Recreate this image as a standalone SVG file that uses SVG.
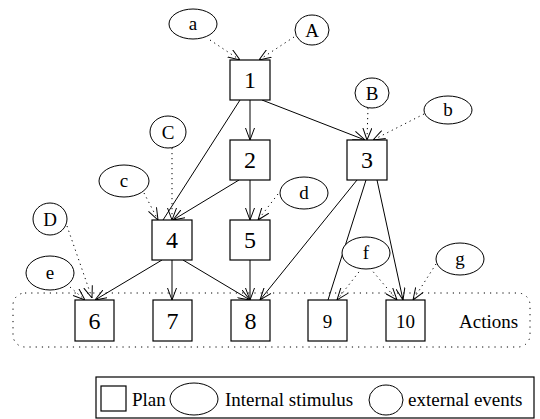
<svg xmlns="http://www.w3.org/2000/svg" width="540" height="419" viewBox="0 0 540 419">
<style>
.box{fill:#fff;stroke:#000;stroke-width:1.2}
.ell{fill:#fff;stroke:#000;stroke-width:1}
.num{font-size:24px;text-anchor:middle;dominant-baseline:central}
.lbl{font-size:19px;text-anchor:middle;dominant-baseline:central}
.txt{font-size:19px;dominant-baseline:central}
.e{stroke:#000;stroke-width:1;fill:none}
.a{marker-end:url(#arr)}
.d{stroke-dasharray:1.2,3.8}
</style>
<defs>
<marker id="arr" viewBox="0 0 12 10" refX="12" refY="5" markerWidth="12" markerHeight="10" markerUnits="userSpaceOnUse" orient="auto">
<path d="M0,0.5 L12,5 L0,9.5" fill="none" stroke="#000" stroke-width="1"/>
</marker>
</defs>
<rect x="13" y="293" width="517" height="54" rx="12" fill="none" stroke="#000" stroke-width="1" stroke-dasharray="1.2,5"/>
<g id="connectors">
<line class="e a" x1="250" y1="100" x2="250" y2="140"/>
<line class="e a" x1="262" y1="100" x2="365" y2="140"/>
<line class="e" x1="240" y1="100" x2="163" y2="220"/>
<line class="e a" x1="239" y1="180" x2="173" y2="220"/>
<line class="e a" x1="250" y1="180" x2="250" y2="220"/>
<line class="e a" x1="357" y1="180" x2="260" y2="300"/>
<line class="e" x1="366" y1="180" x2="328" y2="300"/>
<line class="e a" x1="377" y1="180" x2="403" y2="300"/>
<line class="e a" x1="162" y1="260" x2="95" y2="300"/>
<line class="e a" x1="172" y1="260" x2="172" y2="300"/>
<line class="e a" x1="183" y1="260" x2="250" y2="300"/>
<line class="e a" x1="250" y1="260" x2="250" y2="300"/>
<line class="e a d" x1="210" y1="40" x2="240" y2="60"/>
<line class="e a d" x1="294" y1="37" x2="259" y2="60"/>
<line class="e a d" x1="368" y1="108" x2="367" y2="140"/>
<line class="e a d" x1="424" y1="114" x2="373" y2="140"/>
<line class="e a d" x1="172" y1="148" x2="172" y2="220"/>
<line class="e a d" x1="144" y1="193" x2="158" y2="220"/>
<line class="e a d" x1="278" y1="194" x2="258" y2="220"/>
<line class="e a d" x1="67" y1="226" x2="92" y2="298"/>
<line class="e a d" x1="70" y1="287" x2="85" y2="300"/>
<line class="e a d" x1="362" y1="268" x2="337" y2="300"/>
<line class="e a d" x1="370" y1="268" x2="397" y2="300"/>
<line class="e a d" x1="436" y1="264" x2="413" y2="300"/>
</g>
<g font-family="Liberation Serif, Times New Roman, DejaVu Serif, serif">
<g id="n1"><rect class="box" x="230" y="60" width="40" height="40"/><text class="num" x="250" y="80">1</text></g>
<g id="n2"><rect class="box" x="230" y="140" width="40" height="40"/><text class="num" x="250" y="160">2</text></g>
<g id="n3"><rect class="box" x="347" y="140" width="40" height="40"/><text class="num" x="367" y="160">3</text></g>
<g id="n4"><rect class="box" x="152" y="220" width="40" height="40"/><text class="num" x="172" y="240">4</text></g>
<g id="n5"><rect class="box" x="230" y="220" width="40" height="40"/><text class="num" x="250" y="240">5</text></g>
<g id="n6"><rect class="box" x="75" y="300" width="39" height="41"/><text class="num" x="94.5" y="321">6</text></g>
<g id="n7"><rect class="box" x="153" y="300" width="39" height="41"/><text class="num" x="172.5" y="321">7</text></g>
<g id="n8"><rect class="box" x="231" y="300" width="39" height="41"/><text class="num" x="250.5" y="321">8</text></g>
<g id="n9"><rect class="box" x="308" y="300" width="39" height="41"/><text class="lbl" x="327.5" y="321">9</text></g>
<g id="n10"><rect class="box" x="386" y="300" width="39" height="41"/><text class="lbl" x="405.5" y="321">10</text></g>
<g id="ea"><ellipse class="ell" cx="193" cy="24" rx="24" ry="15"/><text class="lbl" x="193" y="23">a</text></g>
<g id="eA"><ellipse class="ell" cx="312" cy="30" rx="17" ry="15"/><text class="lbl" x="312" y="30">A</text></g>
<g id="eB"><ellipse class="ell" cx="372" cy="93" rx="17" ry="15"/><text class="lbl" x="372" y="93">B</text></g>
<g id="eb"><ellipse class="ell" cx="448" cy="110" rx="24" ry="14"/><text class="lbl" x="448" y="109">b</text></g>
<g id="eC"><ellipse class="ell" cx="168" cy="132" rx="18" ry="16"/><text class="lbl" x="168" y="132">C</text></g>
<g id="ec"><ellipse class="ell" cx="124" cy="181" rx="25" ry="16"/><text class="lbl" x="124" y="180">c</text></g>
<g id="eD"><ellipse class="ell" cx="50" cy="219" rx="17" ry="16"/><text class="lbl" x="50" y="219">D</text></g>
<g id="ed"><ellipse class="ell" cx="304" cy="193" rx="24" ry="16"/><text class="lbl" x="304" y="192">d</text></g>
<g id="ee"><ellipse class="ell" cx="50" cy="273" rx="24" ry="17"/><text class="lbl" x="50" y="272">e</text></g>
<g id="ef"><ellipse class="ell" cx="366" cy="253" rx="24" ry="16"/><text class="lbl" x="366" y="252">f</text></g>
<g id="eg"><ellipse class="ell" cx="460" cy="259" rx="24" ry="16"/><text class="lbl" x="460" y="258">g</text></g>
<text class="txt" x="459" y="321">Actions</text>
<g id="legend">
<rect x="96" y="377" width="438" height="41" fill="none" stroke="#000" stroke-width="1.2"/>
<rect class="box" x="101" y="386" width="25" height="25"/>
<text class="txt" x="132" y="399">Plan</text>
<ellipse class="ell" cx="194" cy="399" rx="24" ry="16"/>
<text class="txt" x="225" y="399">Internal stimulus</text>
<ellipse class="ell" cx="386" cy="400" rx="17" ry="15"/>
<text class="txt" x="408" y="399">external events</text>
</g>
</g>
</svg>
